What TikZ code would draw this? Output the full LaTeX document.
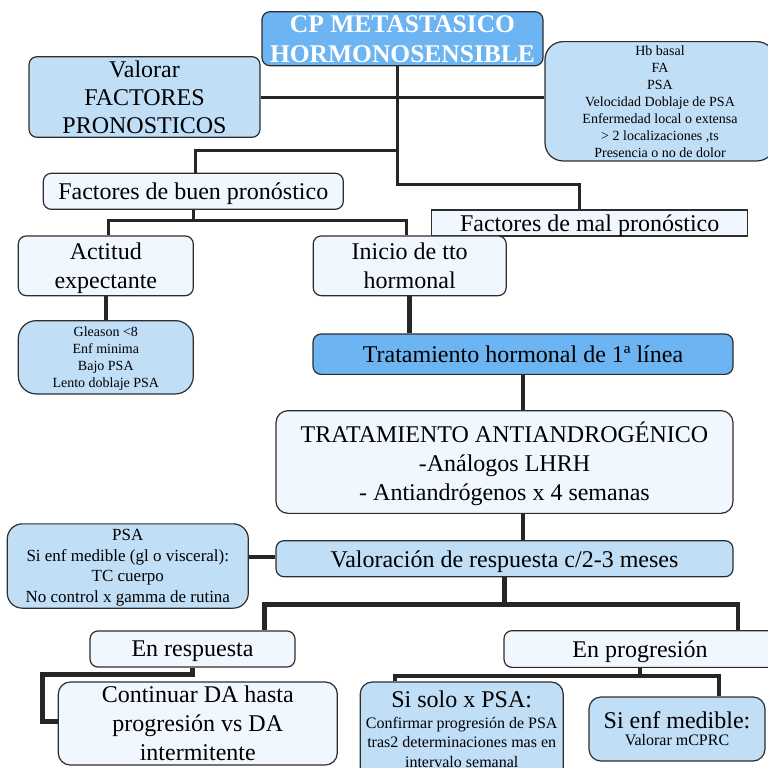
\documentclass[tikz,border=0pt]{standalone}
\usepackage{fontspec}
\setmainfont{Liberation Serif}
\usetikzlibrary{calc}

\definecolor{midblue}{RGB}{109,180,242}
\definecolor{lightblue}{RGB}{193,222,247}
\definecolor{paleblue}{RGB}{241,247,254}
\definecolor{edgegray}{RGB}{45,45,45}
\newcommand{\setfs}[2]{\fontsize{#1}{#2}\selectfont}

\begin{document}
\begin{tikzpicture}[x=1pt, y=-1pt,
        box/.style={draw=edgegray, line width=1.2pt, rounded corners=8pt, align=center, inner sep=0pt},
        bigtext/.style={font=\setfs{24}{28.3}},
        smalltext/.style={font=\setfs{14}{17}},
        conn/.style={line width=3pt, black!85},
        thickconn/.style={line width=4.5pt, black!85}]
        \useasboundingbox (0,0) rectangle (768,768);
        \clip (0,0) rectangle (768,768);
        % Top level
        \node[box, fill=midblue, text=white, font=\setfs{25.5}{30}\bfseries, text depth=-2pt, minimum width=281pt, minimum height=54pt] (title) at (402.5,38.7) {CP METASTASICO\\HORMONOSENSIBLE};
        \node[box, bigtext, fill=lightblue, text depth=-3pt, minimum width=231pt, minimum height=80.6pt] (valorar) at (144.5,97) {Valorar\\FACTORES\\PRONOSTICOS};
        \node[box, smalltext, fill=lightblue, rounded corners=18pt, text depth=0pt, minimum width=230pt, minimum height=119.3pt] (factlist) at (660,101.3) {Hb basal\\FA\\PSA\\Velocidad Doblaje de PSA\\Enfermedad local o extensa\\\textgreater{} 2 localizaciones ,ts\\Presencia o no de dolor};
        % Prognosis
        \node[box, bigtext, fill=paleblue, text depth=-1pt, minimum width=300pt, minimum height=36pt] (buen) at (193.3,191.3) {Factores de buen pronóstico};
        \node[box, bigtext, fill=paleblue, rounded corners=0pt, text depth=-1.6pt, minimum width=316pt, minimum height=26pt] (mal) at (589.7,223) {Factores de mal pronóstico};
        \node[box, bigtext, fill=paleblue, text depth=-3.7pt, minimum width=175pt, minimum height=59.7pt] (actitud) at (105.8,265.8) {Actitud\\expectante};
        \node[box, bigtext, fill=paleblue, text depth=-3.7pt, minimum width=193pt, minimum height=59.7pt] (inicio) at (409.7,265.8) {Inicio de tto\\hormonal};
        \node[box, smalltext, fill=lightblue, rounded corners=18pt, text depth=-1.4pt, minimum width=175pt, minimum height=73.3pt] (gleason) at (105.8,357.3) {Gleason \textless 8\\Enf minima\\Bajo PSA\\Lento doblaje PSA};
        % Treatment
        \node[box, bigtext, fill=midblue, text depth=-1.8pt, minimum width=420pt, minimum height=40.3pt] (trat) at (523,354.2) {Tratamiento hormonal de 1ª línea};
        \node[box, font=\setfs{24}{28.8}, fill=paleblue, rounded corners=12pt, text depth=2pt, minimum width=457pt, minimum height=102.7pt] (antiandro) at (504.5,462) {TRATAMIENTO ANTIANDROGÉNICO\\-Análogos LHRH\\- Antiandrógenos x 4 semanas};
        \node[box, font=\setfs{17}{20.5}, fill=lightblue, rounded corners=15pt, text depth=-1.2pt, minimum width=241pt, minimum height=84.3pt] (control) at (127.8,566) {PSA\\Si enf medible (gl o visceral):\\TC cuerpo\\No control x gamma de rutina};
        \node[box, bigtext, fill=lightblue, text depth=0pt, minimum width=457pt, minimum height=36pt] (valoracion) at (504.5,558.7) {Valoración de respuesta c/2-3 meses};
        % Response
        \node[box, bigtext, fill=paleblue, text depth=0pt, minimum width=205pt, minimum height=36pt] (respuesta) at (192.5,649) {En respuesta};
        \node[box, bigtext, fill=paleblue, text depth=-2.2pt, minimum width=272pt, minimum height=36.7pt] (progresion) at (640,649) {En progresión};
        \node[box, font=\setfs{24}{29}, fill=paleblue, rounded corners=12pt, text depth=-2.7pt, minimum width=279pt, minimum height=83pt] (continuar) at (197.8,723.5) {Continuar DA hasta\\progresión vs DA\\intermitente};
        \node[box, font=\setfs{16}{19.5}, fill=lightblue, rounded corners=12pt, text depth=6.4pt, minimum width=203pt, minimum height=100pt] (solo) at (461.7,732) {{\setfs{24}{26}Si solo x PSA:}\\[1.5pt]Confirmar progresión de PSA\\tras2 determinaciones mas en\\intervalo semanal};
        \node[box, font=\setfs{16}{17}, fill=lightblue, rounded corners=12pt, text depth=-12.6pt, minimum width=176pt, minimum height=64pt] (medible) at (677,729) {{\setfs{24}{26}Si enf medible:}\\Valorar mCPRC};
        % Connectors
        \draw[conn] ($(title.south)+(-5,0)$) |- ($(mal.north)+(-10.7,-25)$) -- ($(mal.north)+(-10.7,0)$);
        \draw[conn] (valorar.east) -- (valorar.east -| factlist.west);
        \draw[conn] ($(buen.north)+(1.7,0)$) |- (397.5,150);
        \draw[conn] (buen.south) -- ++(0,11);
        \draw[conn] ($(actitud.north)+(2.5,0)$) |- ($(buen.south)+(0,11)$) -| ($(inicio.north)+(-3,0)$);
        \draw[thickconn] (actitud) -- (gleason);
        \draw[thickconn] (inicio.south) -- (inicio.south |- trat.north);
        \draw[thickconn] (trat.south) -- (trat.south |- antiandro.north);
        \draw[thickconn] (trat.south |- antiandro.south) -- (trat.south |- valoracion.north);
        \draw[thickconn] (valoracion.west |- 0,557) -- (control.east |- 0,557);
        \draw[thickconn] (valoracion.south) -- ++(0,27);
        \draw[thickconn] ($(respuesta.north)+(72,0)$) |- ($(valoracion.south)+(0,27)$) -| ($(progresion.north)+(98,0)$);
        \draw[thickconn] (respuesta.south) -- ++(0,7) -| ($(continuar.west)+(-15,-2)$) -- ($(continuar.west)+(0,-2)$);
        \draw[thickconn] (progresion.south) -- ++(0,8);
        \draw[thickconn] ($(solo.north)+(-66.7,0)$) |- ($(progresion.south)+(0,8)$) -| ($(medible.north)+(42,0)$);
    \end{tikzpicture}
\end{document}
